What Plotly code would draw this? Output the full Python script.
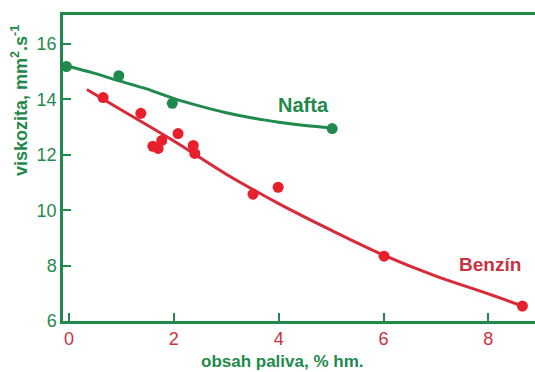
import plotly.graph_objects as go

# Measured points
nafta_x = [-0.05, 0.95, 1.97, 5.02]
nafta_y = [15.19, 14.86, 13.86, 12.95]
benzin_x = [0.65, 1.37, 1.60, 1.70, 1.77, 2.08, 2.37, 2.40, 3.51, 3.99, 6.01, 8.65]
benzin_y = [14.07, 13.50, 12.31, 12.23, 12.52, 12.77, 12.34, 12.05, 10.58, 10.83, 8.34, 6.54]

# Trend curves
nafta_cx = [-0.05, 0.46, 0.94, 1.48, 1.99, 2.5, 3.0, 3.5, 4.0, 4.5, 5.02]
nafta_cy = [15.22, 14.96, 14.68, 14.38, 14.04, 13.76, 13.52, 13.33, 13.18, 13.06, 12.97]
benzin_cx = [0.34, 1.0, 2.0, 3.0, 4.0, 5.0, 6.0, 7.0, 8.0, 8.65]
benzin_cy = [14.36, 13.62, 12.5, 11.3, 10.24, 9.28, 8.38, 7.62, 6.98, 6.54]

x_ticks = [0, 2, 4, 6, 8]
y_ticks = [6, 8, 10, 12, 14, 16]

GREEN = "#1f8a4c"
RED_DOT = "#e8202c"
RED_LINE = "#d92a38"
RED_TXT = "#c9333f"
FONT = "Liberation Sans, Arial, sans-serif"

fig = go.Figure()
fig.add_trace(go.Scatter(x=nafta_cx, y=nafta_cy, mode="lines", line=dict(color=GREEN, width=3, shape="spline"),
                         hoverinfo="skip", showlegend=False))
fig.add_trace(go.Scatter(x=benzin_cx, y=benzin_cy, mode="lines", line=dict(color=RED_LINE, width=3, shape="spline"),
                         hoverinfo="skip", showlegend=False))
fig.add_trace(go.Scatter(x=nafta_x, y=nafta_y, mode="markers", marker=dict(color=GREEN, size=11),
                         cliponaxis=False, showlegend=False))
fig.add_trace(go.Scatter(x=benzin_x, y=benzin_y, mode="markers", marker=dict(color=RED_DOT, size=11),
                         cliponaxis=False, showlegend=False))

W, H = 535, 372
L, R, T, B = 63, 0, 15, 51

fig.update_layout(
    width=W, height=H,
    margin=dict(l=L, r=R, t=T, b=B),
    paper_bgcolor="white", plot_bgcolor="white",
    font=dict(family=FONT),
    xaxis=dict(range=[-0.115, 8.89], tickvals=x_ticks, ticks="inside", ticklen=8, tickwidth=1.5,
               tickcolor=GREEN, showline=True, linecolor=GREEN, linewidth=2.5, mirror=True,
               showgrid=False, zeroline=False, automargin=False,
               tickfont=dict(color=RED_TXT, size=18)),
    yaxis=dict(range=[6, 17.05], tickvals=y_ticks, ticks="inside", ticklen=8, tickwidth=1.5,
               tickcolor=GREEN, showline=True, linecolor=GREEN, linewidth=2.5,
               showgrid=False, zeroline=False, automargin=False,
               tickfont=dict(color=GREEN, size=18)),
)

pw, ph = W - L - R, H - T - B
def px(xp):
    return (xp - L) / pw
def py(yp):
    return (H - B - yp) / ph

texts = [
    ("<b>Nafta</b>", 303, 105, GREEN, 20, 0),
    ("<b>Benzín</b>", 490, 264, RED_TXT, 19, 0),
    ("<b>obsah paliva, % hm.</b>", 282, 361, GREEN, 17, 0),
    ("<b>viskozita, mm<sup>2</sup>.s<sup>-1</sup></b>", 19, 101, GREEN, 18, -90),
]
for t, xp, yp, c, s, ang in texts:
    fig.add_annotation(text=t, x=px(xp), y=py(yp), xref="paper", yref="paper",
                       xanchor="center", yanchor="middle", showarrow=False, textangle=ang,
                       font=dict(color=c, size=s, family=FONT))

fig.write_html("out.html", config={"displayModeBar": False},
               post_script="document.body.style.margin='0';document.body.style.overflow='hidden';")
